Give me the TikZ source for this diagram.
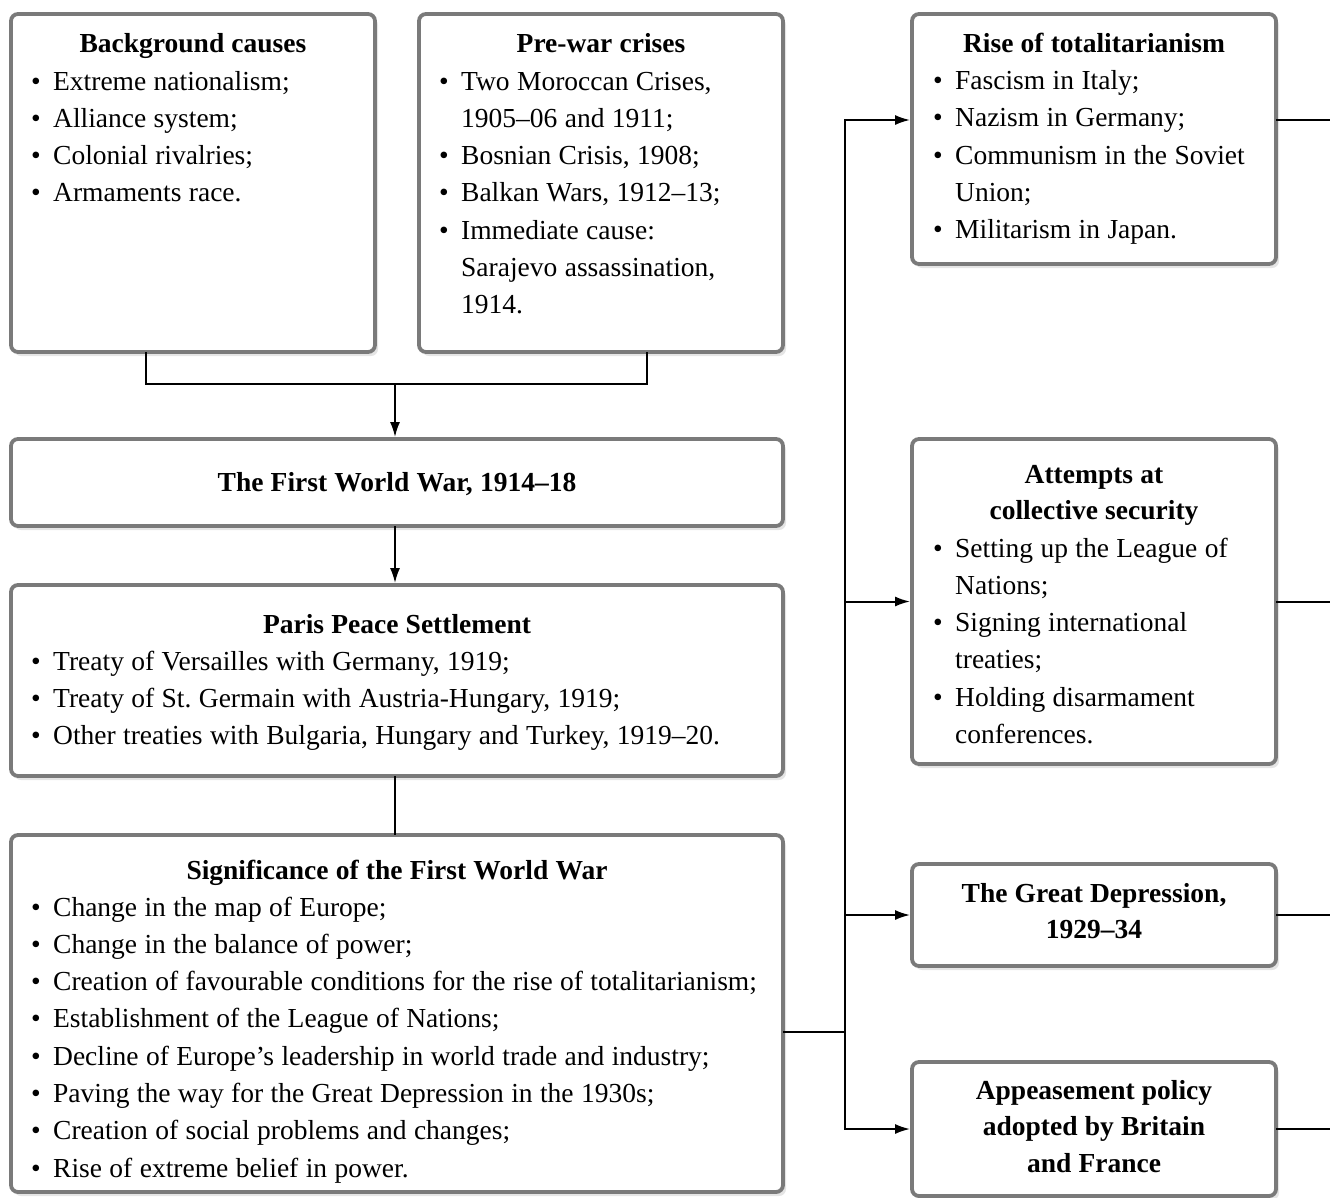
\documentclass[tikz,border=0pt]{standalone}
\usepackage{fontspec}
\setmainfont{Liberation Serif}
\usetikzlibrary{arrows.meta,shadows}
\definecolor{boxgray}{RGB}{122,122,122}
\newcommand{\bl}{\makebox[22pt][l]{•}}
\newcommand{\ct}{\makebox[22pt][l]{}}
\newcommand{\listfont}{\fontsize{27.5}{37.3}\selectfont\fontdimen2\font=7.4pt\relax}
\newcommand{\titlefont}{\fontsize{27.5}{36.5}\selectfont\bfseries\fontdimen2\font=7.2pt\relax}
\begin{document}
\begin{tikzpicture}[x=1pt,y=-1pt,
  box/.style={draw=boxgray, line width=3.8pt, rounded corners=7pt, fill=white,
    inner sep=0pt, outer sep=0pt, anchor=north west,
    drop shadow={shadow xshift=3pt, shadow yshift=-4pt, fill=black, opacity=0.10}},
  ttl/.style={font=\titlefont, anchor=base,
    align=flush center, inner sep=0pt, text width=350pt},
  lst/.style={font=\listfont, anchor=base west,
    align=flush left, inner sep=0pt, text width=760pt},
  conn/.style={line width=2pt, black},
  tip/.style={-{Latex[length=15pt,width=10pt]}},
  arr/.style={conn, tip, shorten >=1.9pt}]
\useasboundingbox (0,0) rectangle (1330,1197);

% boxes
\node[box, minimum width=364pt, minimum height=338pt] (bg) at (11,14) {};
\node[box, minimum width=364pt, minimum height=338pt] (pw) at (419,14) {};
\node[box, minimum width=772pt, minimum height=87pt] (ww1) at (11,439) {};
\node[box, minimum width=772pt, minimum height=191pt] (paris) at (11,585) {};
\node[box, minimum width=772pt, minimum height=357pt] (sig) at (11,835) {};
\node[box, minimum width=364pt, minimum height=250pt] (rise) at (912,14) {};
\node[box, minimum width=364pt, minimum height=325pt] (att) at (912,439) {};
\node[box, minimum width=364pt, minimum height=102pt] (dep) at (912,864) {};
\node[box, minimum width=364pt, minimum height=134pt] (app) at (912,1062) {};

% titles
\node[ttl] (bgT) at (193,52) {Background causes};
\node[ttl] (pwT) at (601,52) {Pre-war crises};
\node[ttl, text width=740pt] (ww1T) at (397,491) {The First World War, 1914–18};
\node[ttl, text width=740pt] (parisT) at (397,633) {Paris Peace Settlement};
\node[ttl, text width=740pt] (sigT) at (397,879) {Significance of the First World War};
\node[ttl] (riseT) at (1094,52) {Rise of totalitarianism};
\node[ttl] (attT) at (1094,483) {Attempts at\\collective security};
\node[ttl] (depT) at (1094,902) {The Great Depression,\\1929–34};
\node[ttl] (appT) at (1094,1099) {Appeasement policy\\adopted by Britain\\and France};

% lists
\node[lst] (bgL) at (31,90) {\bl Extreme nationalism;\\
\bl Alliance system;\\
\bl Colonial rivalries;\\
\bl Armaments race.};
\node[lst] (pwL) at (439,90) {\bl Two Moroccan Crises,\\
\ct 1905–06 and 1911;\\
\bl Bosnian Crisis, 1908;\\
\bl Balkan Wars, 1912–13;\\
\bl Immediate cause:\\
\ct Sarajevo assassination,\\
\ct 1914.};
\node[lst] (parisL) at (31,670) {\bl Treaty of Versailles with Germany, 1919;\\
\bl Treaty of St.\ Germain with Austria-Hungary, 1919;\\
\bl Other treaties with Bulgaria, Hungary and Turkey, 1919–20.};
\node[lst] (sigL) at (31,916) {\bl Change in the map of Europe;\\
\bl Change in the balance of power;\\
\bl Creation of favourable conditions for the rise of totalitarianism;\\
\bl Establishment of the League of Nations;\\
\bl Decline of Europe’s leadership in world trade and industry;\\
\bl Paving the way for the Great Depression in the 1930s;\\
\bl Creation of social problems and changes;\\
\bl Rise of extreme belief in power.};
\node[lst] (riseL) at (933,89.5) {\bl Fascism in Italy;\\
\bl Nazism in Germany;\\
\bl Communism in the Soviet\\
\ct Union;\\
\bl Militarism in Japan.};
\node[lst] (attL) at (933,557) {\bl Setting up the League of\\
\ct Nations;\\
\bl Signing international\\
\ct treaties;\\
\bl Holding disarmament\\
\ct conferences.};

% connectors, left column
\coordinate (j1) at (146,384);
\coordinate (j2) at (647,384);
\coordinate (j) at (395,384);
\draw[conn] (bg.south -| j1) -- (j1) -- (j2) -- (pw.south -| j2);
\draw[arr] (j) -- (ww1.north -| j);
\draw[arr] (ww1.south -| j) -- (paris.north -| j);
\draw[conn] (paris.south -| j) -- (sig.north -| j);

% connectors, right column
\coordinate (k) at (845,1032);
\coordinate (vt) at (845,120);
\coordinate (vb) at (845,1129);
\coordinate (o1) at (1330,120);
\draw[conn] (sig.east |- k) -- (k);
\draw[conn, {Latex[length=15pt,width=10pt]}-{Latex[length=15pt,width=10pt]}, shorten <=1.9pt, shorten >=1.9pt]
  (rise.west |- vt) -- (vt) -- (vb) -- (app.west |- vb);
\draw[arr] (att.west -| vt) -- (att.west);
\draw[arr] (dep.west -| vt) -- (dep.west);
\draw[conn] (rise.east |- o1) -- (o1);
\draw[conn] (att.east) -- (att.east -| o1);
\draw[conn] (dep.east) -- (dep.east -| o1);
\draw[conn] (app.east) -- (app.east -| o1);
\end{tikzpicture}
\end{document}
